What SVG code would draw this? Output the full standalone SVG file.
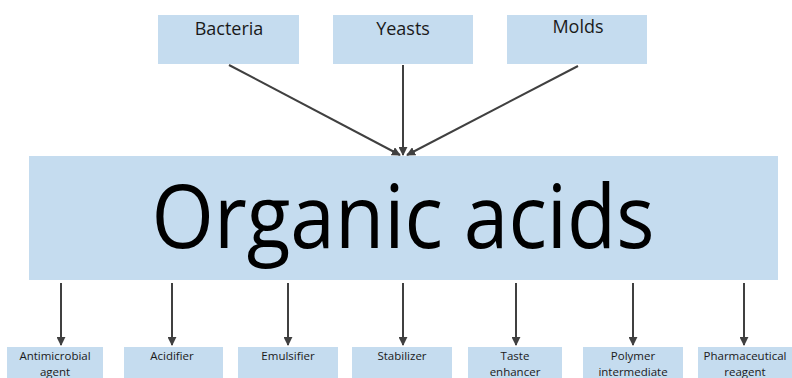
<svg xmlns="http://www.w3.org/2000/svg" width="792" height="378" viewBox="0 0 792 378">
<style>
.box{fill:#c5dcef}
.t{font-family:"Open Sans","DejaVu Sans",sans-serif;fill:#1a1a1a;text-anchor:middle}
.top{font-size:18px}
.sm{font-size:11.5px}
.big{font-size:88px;fill:#000}
.c{stroke:#404040;stroke-width:2;fill:none;marker-end:url(#ah)}
</style>
<defs>
<marker id="ah" viewBox="0 0 10 10" refX="9" refY="5" markerWidth="4.5" markerHeight="4.5" orient="auto" markerUnits="strokeWidth">
<path d="M0,0 L10,5 L0,10 z" fill="#404040"/>
</marker>
</defs>
<rect width="792" height="378" fill="#ffffff"/>
<g id="bacteria"><rect class="box" x="158" y="15" width="141" height="49"/><text class="t top" x="229" y="35">Bacteria</text></g>
<g id="yeasts"><rect class="box" x="333" y="15" width="140" height="49"/><text class="t top" x="403" y="35">Yeasts</text></g>
<g id="molds"><rect class="box" x="507" y="15" width="140" height="49"/><text class="t top" x="578" y="33">Molds</text></g>
<g id="organic-acids"><rect class="box" x="29" y="156" width="749" height="124"/><text class="t big" x="403" y="248" textLength="503" lengthAdjust="spacingAndGlyphs">Organic acids</text></g>
<g id="antimicrobial"><rect class="box" x="7" y="347" width="96" height="31"/><text class="t sm" x="55" y="360">Antimicrobial</text><text class="t sm" x="55" y="376">agent</text></g>
<g id="acidifier"><rect class="box" x="124" y="347" width="99" height="31"/><text class="t sm" x="172" y="360">Acidifier</text></g>
<g id="emulsifier"><rect class="box" x="238" y="347" width="100" height="31"/><text class="t sm" x="288" y="360">Emulsifier</text></g>
<g id="stabilizer"><rect class="box" x="352" y="347" width="100" height="31"/><text class="t sm" x="402" y="360">Stabilizer</text></g>
<g id="taste"><rect class="box" x="468" y="347" width="94" height="31"/><text class="t sm" x="515" y="360">Taste</text><text class="t sm" x="515" y="376">enhancer</text></g>
<g id="polymer"><rect class="box" x="583" y="347" width="100" height="31"/><text class="t sm" x="633" y="360">Polymer</text><text class="t sm" x="633" y="376">intermediate</text></g>
<g id="pharma"><rect class="box" x="698" y="347" width="94" height="31"/><text class="t sm" x="745" y="360">Pharmaceutical</text><text class="t sm" x="745" y="376">reagent</text></g>
<g id="connectors">
<line class="c" x1="229" y1="65" x2="400" y2="155"/>
<line class="c" x1="403" y1="65" x2="403" y2="155"/>
<line class="c" x1="578" y1="66" x2="407" y2="155"/>
<line class="c" x1="61" y1="283" x2="61" y2="345"/>
<line class="c" x1="172" y1="283" x2="172" y2="345"/>
<line class="c" x1="288" y1="283" x2="288" y2="345"/>
<line class="c" x1="403" y1="283" x2="403" y2="345"/>
<line class="c" x1="516" y1="283" x2="516" y2="345"/>
<line class="c" x1="633" y1="283" x2="633" y2="345"/>
<line class="c" x1="744" y1="283" x2="744" y2="345"/>
</g>
</svg>
